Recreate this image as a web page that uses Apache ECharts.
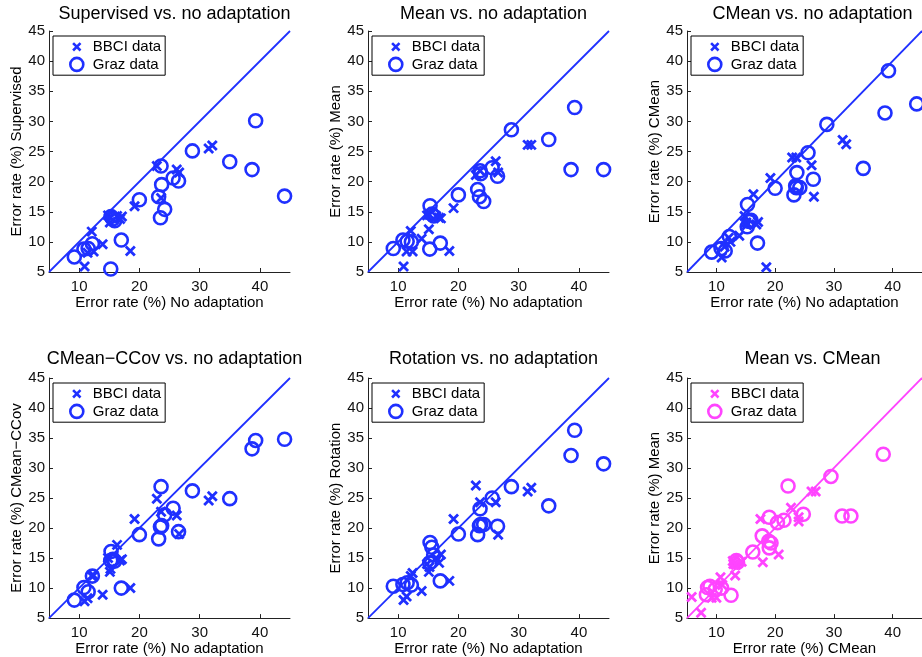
<!DOCTYPE html>
<html>
<head>
<meta charset="utf-8">
<script src="https://cdn.jsdelivr.net/npm/echarts@6/dist/echarts.min.js"></script>
<style>
html, body { margin: 0; padding: 0; background: #fff; }
#chart { width: 922px; height: 657px; }
</style>
</head>
<body>
<div id="chart"></div>
<script>
// error rates (%) per subject, BBCI data set
var bbciNoAdapt   = [10.9, 11.4, 12.1, 12.4, 13.9, 14.8, 15.1, 15.2, 16.3, 16.8, 17.1, 18.5, 19.2, 22.9, 23.6, 26.2, 26.6, 31.5, 32.1];
var bbciSupervised = [5.9, 8.2, 11.7, 8.4, 9.6, 14.4, 13.2, 14.0, 14.3, 13.8, 14.2, 8.5, 15.9, 22.6, 17.3, 22.0, 21.5, 25.5, 26.0];
var bbciMean      = [5.9, 8.4, 11.8, 8.4, 10.5, 14.4, 12.1, 14.5, 14.3, 14.0, 13.9, 8.5, 15.6, 21.1, 21.8, 23.4, 21.5, 26.1, 26.1];
var bbciCMean     = [7.4, 9.2, 10.7, 10.0, 11.0, 14.3, 13.2, 12.8, 17.9, 12.9, 13.3, 5.8, 20.6, 24.0, 24.0, 22.7, 17.5, 26.9, 26.2];
var bbciCCov      = [7.8, 8.3, 12.0, 12.1, 8.9, 15.0, 12.7, 13.2, 17.2, 14.6, 14.8, 10.0, 21.5, 24.9, 22.7, 22.1, 19.0, 24.6, 25.3];
var bbciRotation  = [8.0, 8.6, 12.0, 12.5, 9.5, 14.0, 12.7, 13.5, 15.0, 14.2, 15.6, 11.2, 21.5, 27.1, 24.3, 24.3, 18.9, 26.1, 26.7];

// error rates (%) per subject, Graz data set
var grazNoAdapt    = [9.2, 10.8, 11.5, 12.2, 15.25, 15.3, 15.6, 15.9, 17.0, 20.0, 23.2, 23.6, 23.7, 23.5, 24.2, 25.6, 26.5, 28.8, 35.0, 38.7, 39.3, 44.1];
var grazSupervised = [7.5, 8.8, 8.9, 9.7, 5.5, 14.2, 13.8, 13.5, 10.3, 17.0, 17.5, 22.6, 19.5, 14.0, 15.4, 20.6, 20.1, 25.1, 23.3, 22.0, 30.1, 17.6];
var grazMean       = [8.9, 10.3, 10.1, 10.0, 8.8, 16.0, 14.6, 14.3, 9.8, 17.8, 18.7, 21.8, 21.3, 17.5, 16.7, 22.3, 20.9, 28.6, 27.0, 22.0, 32.3, 22.0];
var grazCMean      = [8.3, 8.9, 8.5, 10.9, 12.5, 16.2, 13.4, 13.6, 9.8, 18.9, 17.8, 19.0, 21.5, 19.3, 19.0, 24.8, 20.4, 29.5, 22.2, 31.4, 38.4, 32.9];
var grazCCov       = [8.0, 10.1, 9.4, 12.0, 14.6, 16.1, 14.8, 14.5, 10.0, 18.9, 18.2, 26.9, 20.4, 20.2, 22.2, 23.3, 19.4, 26.2, 24.9, 33.2, 34.6, 34.8];
var grazRotation   = [10.3, 10.6, 10.9, 10.5, 14.2, 17.6, 16.8, 15.5, 11.2, 19.0, 18.9, 23.2, 20.6, 20.4, 20.6, 25.0, 20.3, 26.9, 23.7, 32.1, 36.3, 30.7];

// axis range, diagonal and tick labels
var axisRange = [5, 45];
var xTicks = [10, 20, 30, 40];
var yTicks = [5, 10, 15, 20, 25, 30, 35, 40, 45];

var BLUE = '#1f30ff';
var MAGENTA = '#ff44ff';
var CROSS = 'path://M0,0L10,10M10,0L0,10';
// same cross with an empty margin so the legend draws it smaller
var CROSS_ICON = 'path://M0,0M14,14M3,3L11,11M11,3L3,11';
var FONT = 'Liberation Sans, Arial, Helvetica, sans-serif';

var panels = [
    {title: 'Supervised vs. no adaptation', xName: 'Error rate (%) No adaptation', yName: 'Error rate (%) Supervised',
        bx: bbciNoAdapt, by: bbciSupervised, gx: grazNoAdapt, gy: grazSupervised, color: BLUE},
    {title: 'Mean vs. no adaptation', xName: 'Error rate (%) No adaptation', yName: 'Error rate (%) Mean',
        bx: bbciNoAdapt, by: bbciMean, gx: grazNoAdapt, gy: grazMean, color: BLUE},
    {title: 'CMean vs. no adaptation', xName: 'Error rate (%) No adaptation', yName: 'Error rate (%) CMean',
        bx: bbciNoAdapt, by: bbciCMean, gx: grazNoAdapt, gy: grazCMean, color: BLUE},
    {title: 'CMean\u2212CCov vs. no adaptation', xName: 'Error rate (%) No adaptation', yName: 'Error rate (%) CMean\u2212CCov',
        bx: bbciNoAdapt, by: bbciCCov, gx: grazNoAdapt, gy: grazCCov, color: BLUE},
    {title: 'Rotation vs. no adaptation', xName: 'Error rate (%) No adaptation', yName: 'Error rate (%) Rotation',
        bx: bbciNoAdapt, by: bbciRotation, gx: grazNoAdapt, gy: grazRotation, color: BLUE},
    {title: 'Mean vs. CMean', xName: 'Error rate (%) CMean', yName: 'Error rate (%) Mean',
        bx: bbciCMean, by: bbciMean, gx: grazCMean, gy: grazMean, color: MAGENTA}
];

var gridLefts = [49, 368, 687];
var gridTops = [31, 378];
var titleTops = [0, 345];
var gridSize = 241;

function zip(xs, ys) {
    var out = [];
    for (var i = 0; i < xs.length; i++) out.push([xs[i], ys[i]]);
    return out;
}

var option = {
    animation: false,
    backgroundColor: '#fff',
    textStyle: {fontFamily: FONT},
    title: [], grid: [], xAxis: [], yAxis: [], legend: [], series: []
};

panels.forEach(function (p, i) {
    var row = Math.floor(i / 3);
    var left = gridLefts[i % 3], top = gridTops[row];
    option.title.push({
        text: p.title, left: left + gridSize / 2, top: titleTops[row], textAlign: 'center',
        textStyle: {fontSize: 18, fontWeight: 'normal', color: '#000', fontFamily: FONT}
    });
    option.grid.push({left: left, top: top, width: gridSize, height: gridSize});
    option.xAxis.push({
        type: 'value', gridIndex: i, min: axisRange[0], max: axisRange[1],
        name: p.xName, nameLocation: 'middle', nameGap: 19,
        nameTextStyle: {fontSize: 15, color: '#000', fontFamily: FONT},
        axisLine: {show: true, lineStyle: {color: '#222', width: 1}},
        axisTick: {show: true, inside: true, length: 4, customValues: xTicks, lineStyle: {color: '#222'}},
        axisLabel: {customValues: xTicks, fontSize: 15, color: '#111', margin: 7, fontFamily: FONT},
        splitLine: {show: false}
    });
    option.yAxis.push({
        type: 'value', gridIndex: i, min: axisRange[0], max: axisRange[1], interval: 5,
        name: p.yName, nameLocation: 'middle', nameGap: 25,
        nameTextStyle: {fontSize: 15, color: '#000', fontFamily: FONT},
        axisLine: {show: true, lineStyle: {color: '#222', width: 1}},
        axisTick: {show: true, inside: true, length: 4, lineStyle: {color: '#222'}},
        axisLabel: {fontSize: 15, color: '#111', margin: 4, fontFamily: FONT,
            customValues: yTicks},
        splitLine: {show: false}
    });
    option.legend.push({
        left: left + 4, top: top + 5, orient: 'vertical',
        backgroundColor: '#fff', borderColor: '#000', borderWidth: 1,
        padding: [3, 4, 3, 16], itemWidth: 22, itemHeight: 13, itemGap: 2,
        textStyle: {fontSize: 15, color: '#000', fontFamily: FONT},
        selectedMode: false,
        data: [
            {name: 'BBCI data', icon: CROSS_ICON,
                itemStyle: {color: 'rgba(0,0,0,0)', borderColor: p.color, borderWidth: 2.6}},
            {name: 'Graz data', icon: 'circle',
                itemStyle: {color: 'rgba(0,0,0,0)', borderColor: p.color, borderWidth: 2.6}}
        ]
    });
    option.series.push({
        type: 'line', xAxisIndex: i, yAxisIndex: i, silent: true,
        data: zip(axisRange, axisRange), symbol: 'none',
        lineStyle: {color: p.color, width: 1.8}
    });
    option.series.push({
        name: 'BBCI data', type: 'scatter', xAxisIndex: i, yAxisIndex: i,
        data: zip(p.bx, p.by), symbol: CROSS, symbolSize: 9,
        itemStyle: {color: 'rgba(0,0,0,0)', borderColor: p.color, borderWidth: 2.8, opacity: 1}
    });
    option.series.push({
        name: 'Graz data', type: 'scatter', xAxisIndex: i, yAxisIndex: i,
        data: zip(p.gx, p.gy), symbol: 'circle', symbolSize: 13,
        itemStyle: {color: 'rgba(0,0,0,0)', borderColor: p.color, borderWidth: 2.6, opacity: 1}
    });
});

var chart = echarts.init(document.getElementById('chart'));
chart.setOption(option);
</script>
</body>
</html>
